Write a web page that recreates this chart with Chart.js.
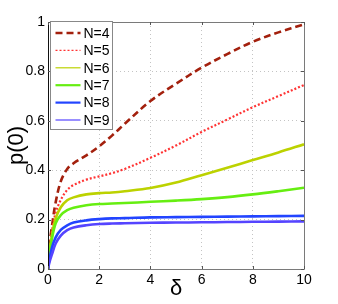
<!DOCTYPE html>
<html>
<head>
<meta charset="utf-8">
<script src="https://cdn.jsdelivr.net/npm/chart.js@4/dist/chart.umd.min.js"></script>
<style>
html,body{margin:0;padding:0;background:#fff;}
#wrap{width:338px;height:304px;}
</style>
</head>
<body>
<div id="wrap"><canvas id="c" width="338" height="304"></canvas></div>
<script>
// ---- data ----
const deltaValues = [0, 0.05, 0.15, 0.3, 0.5, 0.75, 1, 1.5, 2, 2.5, 3, 4, 5, 6, 7, 8, 9, 10];
const seriesLabels = ["N=4", "N=5", "N=6", "N=7", "N=8", "N=9"];
const pN4 = [0, 0.09, 0.17, 0.27, 0.355, 0.405, 0.428, 0.46, 0.497, 0.54, 0.588, 0.68, 0.75, 0.815, 0.87, 0.92, 0.958, 0.99];
const pN5 = [0, 0.07, 0.15, 0.228, 0.28, 0.32, 0.34, 0.362, 0.375, 0.388, 0.405, 0.45, 0.50, 0.555, 0.605, 0.655, 0.70, 0.745];
const pN6 = [0, 0.06, 0.135, 0.205, 0.25, 0.278, 0.29, 0.302, 0.307, 0.31, 0.315, 0.328, 0.35, 0.38, 0.41, 0.441, 0.472, 0.505];
const pN7 = [0, 0.05, 0.12, 0.185, 0.218, 0.238, 0.248, 0.258, 0.263, 0.265, 0.267, 0.272, 0.277, 0.283, 0.291, 0.302, 0.315, 0.329];
const pN8 = [0, 0.035, 0.085, 0.128, 0.158, 0.177, 0.188, 0.197, 0.202, 0.205, 0.206, 0.209, 0.21, 0.211, 0.212, 0.213, 0.214, 0.215];
const pN9 = [0, 0.025, 0.058, 0.103, 0.135, 0.157, 0.168, 0.177, 0.182, 0.184, 0.185, 0.187, 0.188, 0.189, 0.19, 0.191, 0.192, 0.193];
const xTickValues = [0, 2, 4, 6, 8, 10];
const yTickValues = [0, 0.2, 0.4, 0.6, 0.8, 1];

const seriesValues = [pN4, pN5, pN6, pN7, pN8, pN9];
const colors = ["#a3200d", "#ff3333", "#bcd200", "#66ee11", "#2244ff", "#5544ff"];
const widths = [2.6, 2.2, 2.6, 2.6, 2.6, 2.6];
const dashes = [[7, 4], [2, 2], [], [], [], []];
const legendWidths = [2.5, 1.2, 1.2, 2.2, 2.2, 1.2];

const FONT = "'Liberation Sans', Arial, Helvetica, sans-serif";

const datasets = seriesValues.map((vals, i) => ({
  label: seriesLabels[i],
  data: deltaValues.map((x, j) => ({ x: x, y: vals[j] })),
  borderColor: colors[i],
  backgroundColor: colors[i],
  borderWidth: widths[i],
  borderDash: dashes[i],
  pointRadius: 0,
  tension: 0.35,
  fill: false,
  order: 6 - i
}));

const framePlugin = {
  id: 'frame',
  afterDraw(chart) {
    const ctx = chart.ctx;
    const a = chart.chartArea;
    const xs = chart.scales.x, ys = chart.scales.y;
    ctx.save();
    ctx.setLineDash([]);
    ctx.lineWidth = 1;
    ctx.strokeStyle = '#7a7a7a';
    ctx.beginPath();
    ctx.moveTo(a.left, a.top + 0.5);
    ctx.lineTo(a.right + 0.5, a.top + 0.5);
    ctx.lineTo(a.right + 0.5, a.bottom + 0.5);
    ctx.lineTo(a.left, a.bottom + 0.5);
    ctx.stroke();
    ctx.strokeStyle = '#111';
    ctx.beginPath();
    ctx.moveTo(a.left + 0.5, a.top);
    ctx.lineTo(a.left + 0.5, a.bottom + 1);
    ctx.stroke();
    const tl = 3;
    ctx.strokeStyle = '#555';
    ctx.beginPath();
    xTickValues.forEach(v => {
      const px = Math.round(xs.getPixelForValue(v)) + 0.5;
      ctx.moveTo(px, a.bottom); ctx.lineTo(px, a.bottom - tl);
      ctx.moveTo(px, a.top); ctx.lineTo(px, a.top + tl);
    });
    yTickValues.forEach(v => {
      const py = Math.round(ys.getPixelForValue(v)) + 0.5;
      ctx.moveTo(a.left, py); ctx.lineTo(a.left + tl, py);
      ctx.moveTo(a.right, py); ctx.lineTo(a.right - tl, py);
    });
    ctx.stroke();

    const bx = a.left + 2.5, by = a.top - 0.5, bw = 62, bh = 108;
    ctx.fillStyle = '#fff';
    ctx.fillRect(bx, by, bw, bh);
    ctx.strokeStyle = '#888';
    ctx.lineWidth = 1;
    ctx.strokeRect(bx, by, bw, bh);
    ctx.font = '14px ' + FONT;
    ctx.textBaseline = 'middle';
    ctx.textAlign = 'left';
    chart.data.datasets.forEach((ds, i) => {
      const cy = by + 11.5 + i * 17.4;
      ctx.strokeStyle = ds.borderColor;
      ctx.lineWidth = legendWidths[i];
      ctx.setLineDash(ds.borderDash || []);
      ctx.beginPath();
      ctx.moveTo(bx + 5, cy);
      ctx.lineTo(bx + 30, cy);
      ctx.stroke();
      ctx.setLineDash([]);
      ctx.fillStyle = '#000';
      ctx.fillText(ds.label, bx + 33, cy + 1);
    });
    ctx.restore();
  }
};

new Chart(document.getElementById('c'), {
  type: 'line',
  data: { datasets: datasets },
  options: {
    responsive: false,
    animation: false,
    layout: { padding: { left: 4, right: 34, top: 22, bottom: 2 } },
    plugins: { legend: { display: false }, tooltip: { enabled: false } },
    scales: {
      x: {
        type: 'linear',
        min: 0, max: 10,
        afterBuildTicks: s => { s.ticks = xTickValues.map(v => ({ value: v })); },
        afterFit: s => { s.height = 33; },
        ticks: { color: '#000', font: { family: FONT, size: 14 }, padding: 3, maxRotation: 0, callback: v => String(v) },
        grid: {
          drawTicks: false,
          color: ctx => (ctx.tick && (ctx.tick.value === 0 || ctx.tick.value === 10)) ? 'rgba(0,0,0,0)' : '#c4c4c4',
          lineWidth: 1
        },
        border: { display: false, dash: [1, 3] },
        title: { display: true, text: 'δ', color: '#000', font: { family: FONT, size: 22 }, padding: { top: -6, bottom: 0 } }
      },
      y: {
        type: 'linear',
        min: 0, max: 1,
        afterBuildTicks: s => { s.ticks = yTickValues.map(v => ({ value: v })); },
        afterFit: s => { s.width = 44; },
        ticks: { color: '#000', font: { family: FONT, size: 14 }, padding: 3, callback: v => String(v) },
        grid: {
          drawTicks: false,
          color: ctx => (ctx.tick && (ctx.tick.value === 0 || ctx.tick.value === 1)) ? 'rgba(0,0,0,0)' : '#c4c4c4',
          lineWidth: 1
        },
        border: { display: false, dash: [1, 3] },
        title: { display: true, text: 'p(0)', color: '#000', font: { family: FONT, size: 22 }, padding: { top: 0, bottom: 0 } }
      }
    }
  },
  plugins: [framePlugin]
});
</script>
</body>
</html>
